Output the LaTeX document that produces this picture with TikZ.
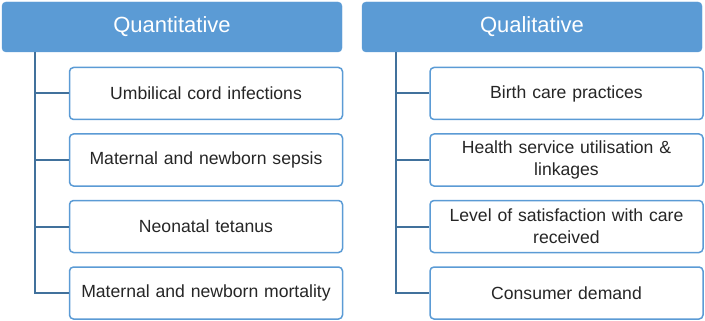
\documentclass[tikz,border=0pt]{standalone}
\usepackage{fontspec}
\setmainfont{Liberation Sans}
\definecolor{hdr}{HTML}{5B9BD5}
\definecolor{bord}{HTML}{5B9BD5}
\definecolor{conn}{HTML}{41719C}
\begin{document}
\begin{tikzpicture}[x=1pt,y=-1pt,
  header/.style={draw=hdr,fill=hdr,rounded corners=4pt,minimum width=340pt,minimum height=50pt,text=white,font=\fontsize{22}{26}\selectfont,inner sep=0pt},
  item/.style={draw=bord,line width=1.5pt,fill=white,rounded corners=4pt,minimum width=273pt,minimum height=52pt,text=black!85,font=\fontsize{17.6}{22}\selectfont,align=center,text width=265pt,inner sep=0pt},
  link/.style={draw=conn,line width=2pt}]
\useasboundingbox (0,0) rectangle (705,321);
\node[header] (q) at (172,27) {Quantitative};
\node[header] (l) at (532,27) {Qualitative};
\node[item] (q1) at (206,93.5) {Umbilical cord infections};
\node[item] (q2) at (206,160) {Maternal and newborn sepsis};
\node[item] (q3) at (206,226.5) {Neonatal tetanus};
\node[item] (q4) at (206,293) {Maternal and newborn mortality};
\node[item] (l1) at (566.5,93.5) {Birth care practices};
\node[item] (l2) at (566.5,160) {Health service utilisation \&\\linkages};
\node[item] (l3) at (566.5,226.5) {Level of satisfaction with care\\received};
\node[item] (l4) at (566.5,293) {Consumer demand};
\coordinate (qa) at (35,52);
\coordinate (la) at (396,52);
\draw[link] (qa) |- (q4.west);
\foreach \n in {q1,q2,q3} \draw[link] (qa |- \n.west) -- (\n.west);
\draw[link] (la) |- (l4.west);
\foreach \n in {l1,l2,l3} \draw[link] (la |- \n.west) -- (\n.west);
\end{tikzpicture}
\end{document}
